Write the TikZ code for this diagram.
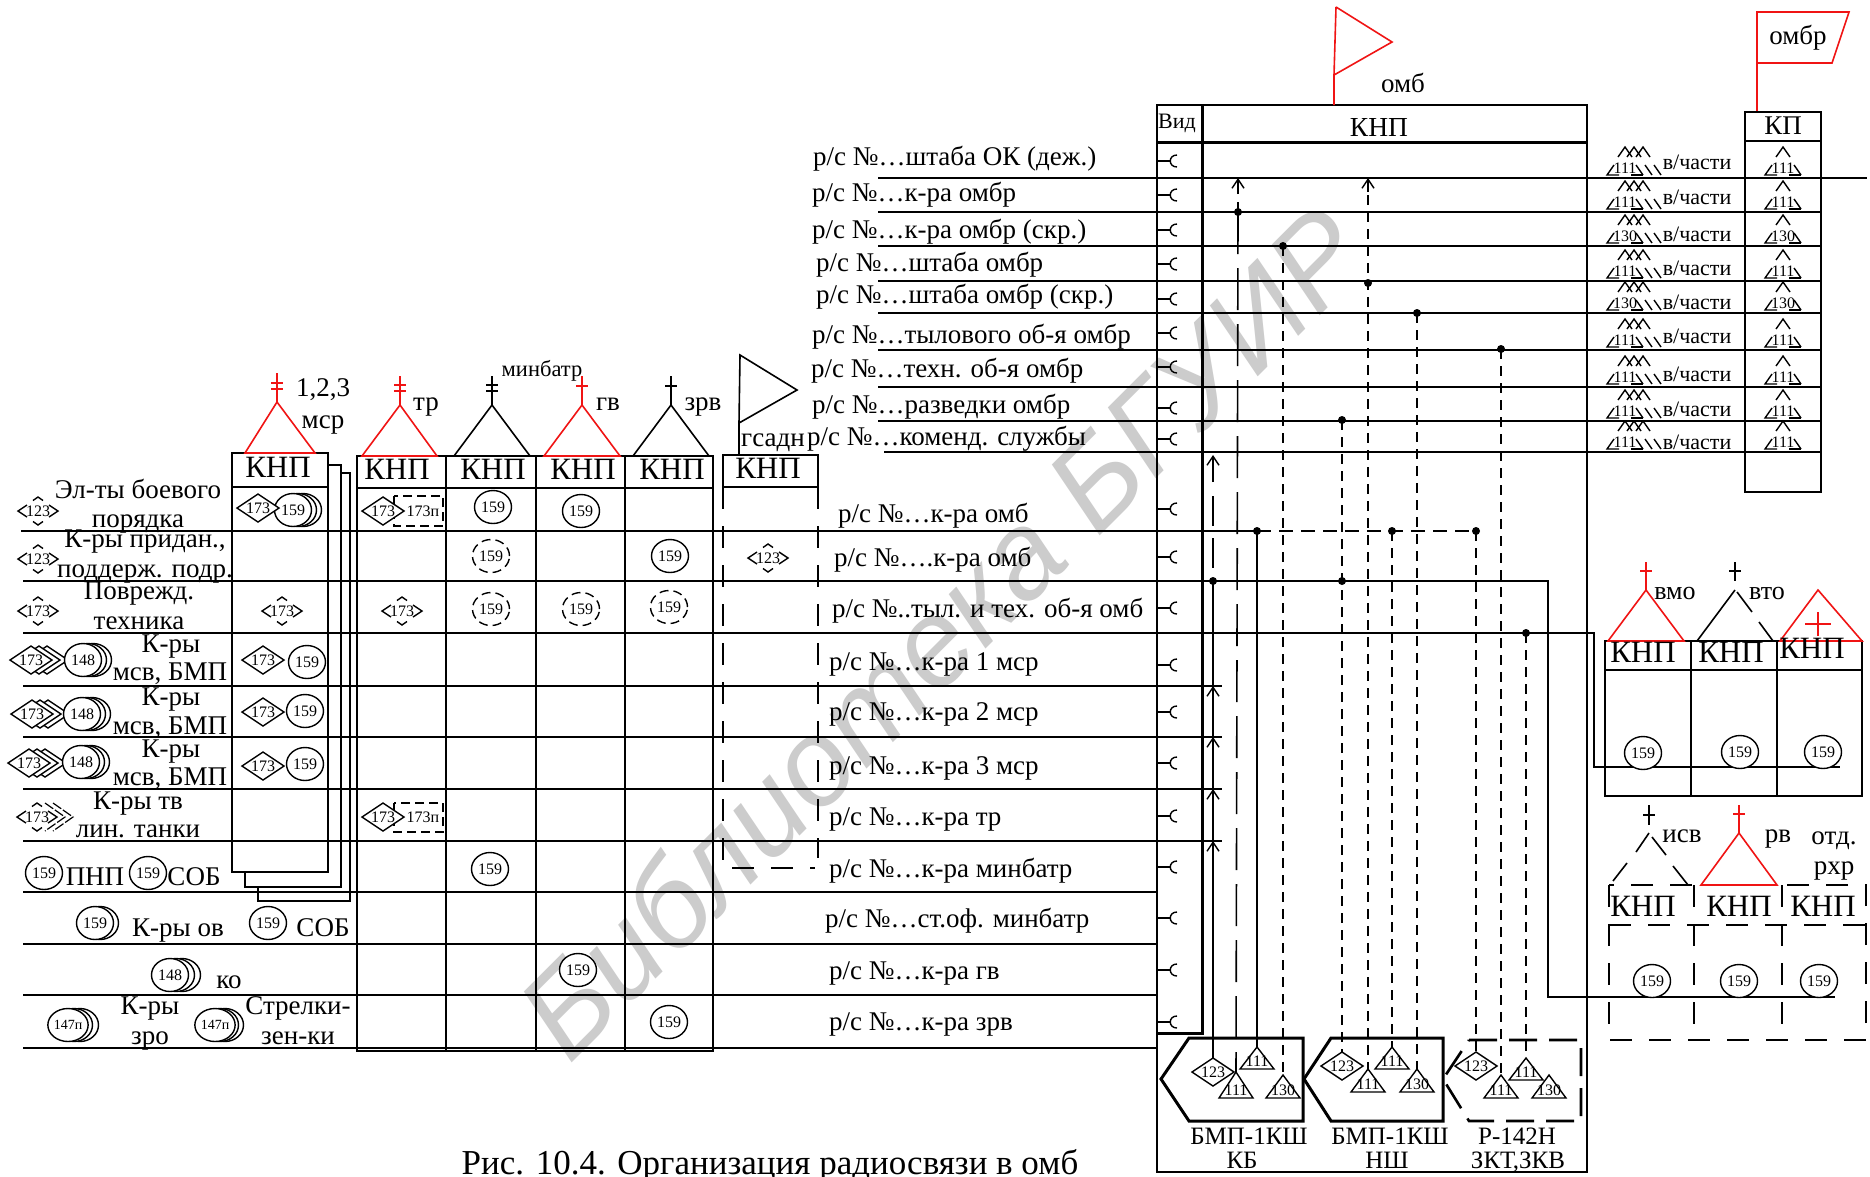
\documentclass[tikz,border=0pt]{standalone}
\usepackage{fontspec}
\setmainfont{Liberation Serif}
\setsansfont{Liberation Sans}
\usetikzlibrary{shapes.geometric,arrows.meta}
\newcounter{nn}
\definecolor{rd}{RGB}{240,20,20}
\newcommand{\fs}[1]{\fontsize{#1}{#1}\selectfont}
\tikzset{
 x=1pt,y=-1pt,
 ln/.style={line width=1.6pt,black},
 rl/.style={line width=1.6pt,rd},
 thick box/.style={line width=3pt,black},
 sdash/.style={line width=1.6pt,dash pattern=on 10pt off 7pt},
 ldash/.style={line width=1.6pt,dash pattern=on 42pt off 14pt},
 tdash/.style={line width=1.6pt,dash pattern=on 22pt off 17pt},
 txt/.style={inner sep=0pt,outer sep=0pt,text height=19pt,text depth=5pt,font=\fs{27}},
 small/.style={inner sep=0pt,outer sep=0pt,font=\fs{16}},
 cell/.style={ellipse,draw,line width=1.4pt,fill=white,minimum width=37pt,minimum height=33pt,inner sep=0pt,outer sep=0pt,font=\fs{16}},
 dcell/.style={cell,dash pattern=on 9pt off 5pt},
 rhomb/.style={diamond,draw,line width=1.4pt,fill=white,aspect=1.5,minimum width=42pt,minimum height=28pt,inner sep=0pt,outer sep=0pt,font=\fs{16}},
 dot/.style={circle,fill=black,minimum size=8pt,inner sep=0pt,outer sep=0pt},
 upbarb/.style={-{Straight Barb[length=9pt,width=12pt,line width=1.4pt]}},
}
% auto named nodes
\newcommand{\T}[3]{\stepcounter{nn}\node[txt] (t\thenn) at (#1,#2) {#3};}
\newcommand{\TT}[4]{\stepcounter{nn}\node[txt,#1] (t\thenn) at (#2,#3) {#4};}
\newcommand{\KNP}[2]{\stepcounter{nn}\node[txt,font=\fs{31}] (k\thenn) at (#1,#2) {КНП};}
\newcommand{\Circ}[3]{\stepcounter{nn}\node[cell] (c\thenn) at (#1,#2) {#3};}
\newcommand{\DCirc}[3]{\stepcounter{nn}\node[dcell] (c\thenn) at (#1,#2) {#3};}
\newcommand{\Stack}[5]{% x y n dx text
 \foreach \i in {#3,...,1}{\stepcounter{nn}\node[cell] (c\thenn) at ({#1+\i*#4},#2) {};}
 \stepcounter{nn}\node[cell] (c\thenn) at (#1,#2) {#5};}
\newcommand{\Rh}[3]{\stepcounter{nn}\node[rhomb] (r\thenn) at (#1,#2) {#3};}
\newcommand{\RhStack}[3]{%
 \foreach \i in {2,1}{\stepcounter{nn}\node[rhomb] (r\thenn) at ({#1+\i*8},#2) {};}
 \stepcounter{nn}\node[rhomb] (r\thenn) at (#1,#2) {#3};}
\newcommand{\DRh}[3]{\stepcounter{nn}\node[small] (r\thenn) at (#1,#2) {#3};
 \begin{scope}[shift={(#1,#2)},line width=1.4pt]
  \draw (-11,-6)--(-20,0)--(-11,6);
  \draw (-5,-10.5)--(0,-14)--(5,-10.5);
  \draw (11,-6)--(20,0)--(11,6);
  \draw (-5,10.5)--(0,14)--(5,10.5);
 \end{scope}}
\newcommand{\DRhStack}[3]{%
 \foreach \i in {1,2}{\draw[line width=1.2pt,dash pattern=on 10pt off 2pt] ({#1+\i*8},{#2-14})--({#1+\i*8+20},#2)--({#1+\i*8},{#2+14});}
 \DRh{#1}{#2}{#3}}
% solid triangle with apex #2,#3, base y #4; apex named #1
\newcommand{\Tri}[5]{\coordinate (#1) at (#2,#3);
 \draw[line width=1.4pt,line join=miter] (#1)--({#2-17},#4)--({#2+17},#4)--cycle;
 \stepcounter{nn}\node[small] (l\thenn) at (#2,{#4-8}) {#5};}
% dashed triangle sign
\newcommand{\DTriL}[2]{% cx L : lines only
 \begin{scope}[shift={(#1,#2)},line width=1.4pt]
  \draw (-7,-21)--(0,-31)--(7,-21);
  \draw (-11,-13)--(-18,-3)--(-6,-3);
  \draw (6,-3)--(18,-3) ;
  \draw (11,-13)--(18,-3);
 \end{scope}}
\newcommand{\DTriN}[3]{\DTriL{#1}{#2}\stepcounter{nn}\node[small] (l\thenn) at (#1,{#2-10}) {#3};}
\newcommand{\RSign}[2]{% L text
 \begin{scope}[line width=1.4pt]
  \foreach \d in {18,9}{\draw ({1625+\d-7},{#1-21})--({1625+\d},{#1-31})--({1625+\d+7},{#1-21});\draw ({1625+\d+11},{#1-13})--({1625+\d+18},{#1-3});}
 \end{scope}
 \DTriN{1625}{#1}{#2}}
\newcommand{\Ear}[1]{\draw[line width=1.4pt] (1157,#1)--(1170,#1);
 \draw[line width=1.4pt] (1177,{#1-6}) .. controls (1168,{#1-6}) and (1168,{#1+6}) .. (1177,{#1+6});}
\begin{document}
\begin{tikzpicture}
\useasboundingbox (0,0) rectangle (1870,1176);
\fill[white] (0,0) rectangle (1870,1176);
% watermark
\node[rotate=45,inner sep=0pt,text=black!20,font=\fontsize{122}{122}\selectfont\sffamily\itshape] (wm) at (941,632) {Библиотека БГУИР};

% --- horizontal lines upper group
\foreach \y in {212,246,281,313,350,387,421}{\draw[ln] (878,\y)--(1821,\y);}
\draw[ln] (878,178)--(1867,178);
\draw[ln] (884,452)--(1821,452);
% --- lower group
\draw[ln] (21,531)--(1257,531);
\draw[ln] (23,581)--(1548,581)--(1548,997)--(1835,997);
\draw[ln] (23,633)--(1594,633)--(1594,767)--(1840,767);
\foreach \y in {686,737,789,841}{\draw[ln] (23,\y)--(1222,\y);}
\foreach \y in {892,944,995,1048}{\draw[ln] (23,\y)--(1157,\y);}
% --- main table
\draw[ln] (1157,105) rectangle (1587,1172);
\draw[thick box] (1157,142)--(1587,142);
\draw[thick box] (1202,105)--(1202,1033)--(1157,1033);
\TT{font=\fs{22}}{1177}{121}{Вид}
\node[txt,font=\fs{27.5}] (knptop) at (1379,129) {КНП};
\foreach \y in {161,195,230,264,299,333,367,408,439,509,557,608,665,712,763,816,867,918,970,1022}{\Ear{\y}}
% --- vehicles
\draw[thick box] (1189,1038)--(1303,1038)--(1303,1121)--(1189,1121)--(1161,1079)--cycle;
\draw[thick box] (1331,1038)--(1443,1038)--(1443,1121)--(1331,1121)--(1304,1079)--cycle;
\draw[line width=2.6pt,dash pattern=on 28pt off 12pt] (1469,1040)--(1581,1040)--(1581,1121)--(1469,1121)--(1443,1079)--cycle;
\node[rhomb] (a1) at (1213,1072) {123};
\Tri{a2}{1236}{1072}{1098}{111}
\Tri{a3}{1257}{1047}{1069}{111}
\Tri{a4}{1283}{1075}{1098}{130}
\node[rhomb] (b1) at (1342,1066) {123};
\Tri{b2}{1368}{1069}{1092}{111}
\Tri{b3}{1392}{1047}{1069}{111}
\Tri{b4}{1417}{1069}{1092}{130}
\node[rhomb] (e1) at (1476,1066) {123};
\Tri{e2}{1501}{1075}{1098}{111}
\Tri{e3}{1526}{1058}{1080}{111}
\Tri{e4}{1549}{1075}{1098}{130}
\TT{font=\fs{25}}{1249}{1137}{БМП-1КШ}\TT{font=\fs{25}}{1242}{1161}{КБ}
\TT{font=\fs{25}}{1390}{1137}{БМП-1КШ}\TT{font=\fs{25}}{1387}{1161}{НШ}
\TT{font=\fs{25}}{1517}{1137}{Р-142Н}\TT{font=\fs{25}}{1518}{1161}{ЗКТ,ЗКВ}
% --- dots
\node[dot] (d1) at (1238,212) {};
\node[dot] (d2) at (1283,246) {};
\node[dot] (d3) at (1368,283) {};
\node[dot] (d4) at (1417,313) {};
\node[dot] (d5) at (1501,349) {};
\node[dot] (d6) at (1342,420) {};
\node[dot] (d7) at (1257,531) {};
\node[dot] (d8) at (1392,531) {};
\node[dot] (d9) at (1476,531) {};
\node[dot] (d10) at (1213,581) {};
\node[dot] (d11) at (1342,581) {};
\node[dot] (d12) at (1526,633) {};
% --- verticals
\coordinate (up1) at (1238,178); \coordinate (up2) at (1368,178);
\coordinate (up3) at (1213,455);
\coordinate (up3b) at (1213,482);\coordinate (up3c) at (1213,496);
\draw[ln,dash pattern=on 10pt off 8pt] (d1.center)--(1238,192);
\draw[ln,upbarb] (1238,192)--(up1);
\draw[ldash] (d1.center)--(a2);
\draw[sdash] (d2.center)--(a4);
\draw[sdash,line width=1.9pt] (up2)--(d3.center)--(b2);
\draw[ln,upbarb] (1368,192)--(up2);
\draw[sdash] (d4.center)--(b4);
\draw[sdash] (d5.center)--(e2);
\draw[sdash] (d6.center)--(b1.north);
\draw[ln,upbarb] (up3b)--(up3);
\draw[ln,dash pattern=on 30pt off 12pt] (up3c)--(d10.center);
\draw[ln] (d10.center)--(a1.north);
\foreach \y in {686,737,789,841}{\draw[ln,upbarb] (1213,{\y+14})--(1213,\y);}
\draw[ln] (d7.center)--(a3);
\draw[sdash] (d8.center)--(b3);
\draw[sdash] (d9.center)--(e1.north);
\draw[sdash] (d12.center)--(e3);
\draw[ln,dash pattern=on 14pt off 8pt] (d7.center)--(d8.center)--(d9.center);
% --- flags & KP
\draw[rl] (1336,7)--(1392,42)--(1334,75);
\draw[rl] (1336,7)--(1334,75)--(1334,105);
\T{1403}{85}{омб}
\draw[rl] (1757,112)--(1757,12)--(1849,12)--(1832,63)--(1757,63);
\T{1798}{37}{омбр}
\draw[ln] (1745,112) rectangle (1821,492);
\draw[ln] (1745,141)--(1821,141);
\T{1783}{127}{КП}
% KP signs
\foreach \L/\n in {178/111,212/111,246/130,281/111,313/130,350/111,387/111,421/111,452/111}{\DTriN{1783}{\L}{\n}\RSign{\L}{\n}}
\foreach \y in {162,197,234,268,302,336,374,409,442}{\TT{font=\fs{22}}{1697}{\y}{в/части}}
% --- upper labels
\TT{anchor=west}{813}{158}{р/с №…штаба ОК (деж.)}
\TT{anchor=west}{812}{194}{р/с №…к-ра омбр}
\TT{anchor=west}{812}{231}{р/с №…к-ра омбр (скр.)}
\TT{anchor=west}{816}{264}{р/с №…штаба омбр}
\TT{anchor=west}{816}{296}{р/с №…штаба омбр (скр.)}
\TT{anchor=west}{812}{336}{р/с №…тылового об-я омбр}
\TT{anchor=west}{811}{370}{р/с №…техн. об-я омбр}
\TT{anchor=west}{812}{406}{р/с №…разведки омбр}
\TT{anchor=west}{807}{438}{р/с №…коменд. службы}
% --- lower labels
\TT{anchor=west}{838}{515}{р/с №…к-ра омб}
\TT{anchor=west}{834}{559}{р/с №….к-ра омб}
\TT{anchor=west}{832}{610}{р/с №..тыл. и тех. об-я омб}
\TT{anchor=west}{829}{663}{р/с №…к-ра 1 мср}
\TT{anchor=west}{829}{713}{р/с №…к-ра 2 мср}
\TT{anchor=west}{829}{767}{р/с №…к-ра 3 мср}
\TT{anchor=west}{829}{818}{р/с №…к-ра тр}
\TT{anchor=west}{829}{870}{р/с №…к-ра минбатр}
\TT{anchor=west}{825}{920}{р/с №…ст.оф. минбатр}
\TT{anchor=west}{829}{972}{р/с №…к-ра гв}
\TT{anchor=west}{829}{1023}{р/с №…к-ра зрв}
% --- left stacked box
\draw[ln] (232,453) rectangle (328,872);
\draw[ln] (232,487)--(328,487);
\draw[ln] (328,465)--(341,465)--(341,887)--(245,887)--(245,872);
\draw[ln] (341,473)--(350,473)--(350,901)--(258,901)--(258,887);
% --- grid
\draw[ln] (357,456) rectangle (713,1051);
\foreach \x in {446,536,625}{\draw[ln] (\x,456)--(\x,1051);}
\draw[ln] (357,488)--(713,488);
% --- gsadn
\draw[ln] (723,455) rectangle (818,487);
\draw[tdash] (723,487)--(723,868)--(815,868);
\draw[tdash] (818,487)--(818,858);
\draw[ln] (739,455)--(739,423)--(797,390)--(740,355)--(739,423);
\T{773}{439}{гсадн}
% --- triangles over columns
\draw[rl] (245,453)--(277,402)--(315,453)--cycle;
\draw[rl] (277,402)--(277,373);\draw[rl] (271,383)--(283,383);\draw[rl] (271,389)--(283,389);
\draw[rl] (362,456)--(400,405)--(437,456)--cycle;
\draw[rl] (400,405)--(400,376);\draw[rl] (394,385)--(406,385);\draw[rl] (394,391)--(406,391);
\draw[ln] (454,456)--(492,405)--(530,456);
\draw[ln] (492,405)--(492,376);\draw[ln] (486,385)--(498,385);\draw[ln] (486,391)--(498,391);
\draw[rl] (544,456)--(582,405)--(620,456)--cycle;
\draw[rl] (582,405)--(582,376);\draw[rl] (576,386)--(588,386);
\draw[ln] (633,456)--(671,405)--(709,456);
\draw[ln] (671,405)--(671,376);\draw[ln] (665,386)--(677,386);
\T{323}{389}{1,2,3}\T{323}{421}{мср}
\T{426}{403}{тр}
\TT{font=\fs{22.5}}{542}{369}{минбатр}
\T{608}{403}{гв}\T{703}{403}{зрв}
\KNP{278}{470}\KNP{397}{472}\KNP{493}{472}\KNP{583}{472}\KNP{672}{472}\KNP{768}{471}
% --- left column
\DRh{38}{511}{123}\DRh{38}{559}{123}\DRh{38}{611}{173}
\RhStack{31}{660}{173}\Stack{83}{660}{2}{5}{148}
\RhStack{32}{714}{173}\Stack{82}{714}{2}{5}{148}
\RhStack{29}{763}{173}\Stack{81}{762}{2}{5}{148}
\DRhStack{37}{817}{173}
\Circ{44}{873}{159}\Circ{148}{873}{159}
\T{95}{878}{ПНП}\T{194}{878}{СОБ}
\Stack{95}{923}{1}{5}{159}\T{178}{929}{К-ры ов}
\Circ{268}{923}{159}\T{323}{929}{СОБ}
\Stack{170}{975}{2}{6}{148}\T{229}{981}{ко}
\Stack{68}{1025}{2}{6}{\fs{14}147п}\T{150}{1007}{К-ры}\T{150}{1037}{зро}
\Stack{215}{1025}{2}{5}{\fs{14}147п}\T{298}{1007}{Стрелки-}\T{298}{1037}{зен-ки}
\T{138}{491}{Эл-ты боевого}\T{138}{520}{порядка}
\T{145}{540}{К-ры придан.,}\T{145}{570}{поддерж. подр.}
\T{139}{592}{Поврежд.}\T{139}{622}{техника}
\T{171}{645}{К-ры}\T{170}{673}{мсв, БМП}
\T{171}{698}{К-ры}\T{170}{727}{мсв, БМП}
\T{171}{750}{К-ры}\T{170}{778}{мсв, БМП}
\T{138}{802}{К-ры тв}\T{138}{830}{лин. танки}
% --- cells
\Stack{293}{510}{2}{5}{159}\Rh{258}{508}{173}
\draw[line width=1.4pt,dash pattern=on 9pt off 5pt] (394,496) rectangle (443,526);
\Rh{383}{511}{173}\node[small] (p1) at (423,511) {173п};
\Circ{493}{507}{159}\Circ{581}{511}{159}
\DCirc{491}{556}{159}\Circ{670}{556}{159}\DRh{768}{558}{123}
\DRh{282}{611}{173}\DRh{402}{611}{173}
\DCirc{491}{609}{159}\DCirc{581}{609}{159}\DCirc{669}{607}{159}
\Rh{263}{660}{173}\Circ{307}{662}{159}
\Rh{263}{712}{173}\Circ{305}{711}{159}
\Rh{263}{766}{173}\Circ{305}{764}{159}
\draw[line width=1.4pt,dash pattern=on 9pt off 5pt] (394,803) rectangle (443,832);
\Rh{383}{817}{173}\node[small] (p2) at (423,817) {173п};
\Circ{490}{869}{159}\Circ{578}{970}{159}\Circ{669}{1022}{159}
% --- right table vmo
\draw[ln] (1605,641) rectangle (1862,796);
\draw[ln] (1691,641)--(1691,796);\draw[ln] (1777,641)--(1777,796);
\draw[ln] (1605,670)--(1862,670);
\draw[rl] (1608,641)--(1646,590)--(1684,641)--cycle;
\draw[rl] (1646,590)--(1646,562);\draw[rl] (1640,571)--(1652,571);
\draw[ln] (1735,590)--(1697,641);\draw[ln] (1737,592)--(1752,612);\draw[ln] (1759,622)--(1773,641);
\draw[ln] (1735,562)--(1735,581);\draw[ln] (1729,571)--(1741,571);
\draw[rl] (1780,641)--(1818,590)--(1862,641)--cycle;
\draw[rl] (1805,624)--(1831,624);\draw[rl] (1818,612)--(1818,636);
\TT{font=\fs{26}}{1675}{592}{вмо}\TT{font=\fs{26}}{1767}{592}{вто}
\KNP{1643}{655}\KNP{1731}{655}\KNP{1812}{651}
\Circ{1643}{753}{159}\Circ{1740}{752}{159}\Circ{1823}{752}{159}
% --- right table dashed
\draw[tdash] (1609,885) rectangle (1866,1040);
\draw[tdash] (1694,885)--(1694,1040);\draw[tdash] (1782,885)--(1782,1040);
\draw[tdash] (1609,925)--(1866,925);
\draw[ln] (1649,833)--(1636,852);\draw[ln] (1627,863)--(1613,881);
\draw[ln] (1652,837)--(1666,855);\draw[ln] (1673,866)--(1688,885);
\draw[ln] (1649,805)--(1649,825);\draw[ln] (1643,815)--(1655,815);
\draw[rl] (1701,885)--(1739,833)--(1777,885)--cycle;
\draw[rl] (1739,833)--(1739,805);\draw[rl] (1733,814)--(1745,814);
\T{1682}{835}{исв}\T{1778}{835}{рв}\T{1834}{837}{отд.}\T{1834}{867}{рхр}
\KNP{1643}{909}\KNP{1739}{909}\KNP{1823}{909}
\Circ{1652}{981}{159}\Circ{1739}{981}{159}\Circ{1819}{981}{159}
% caption
\node[txt,font=\fs{35}] (cap) at (770,1167) {Рис. 10.4. Организация радиосвязи в омб};
\end{tikzpicture}
\end{document}
